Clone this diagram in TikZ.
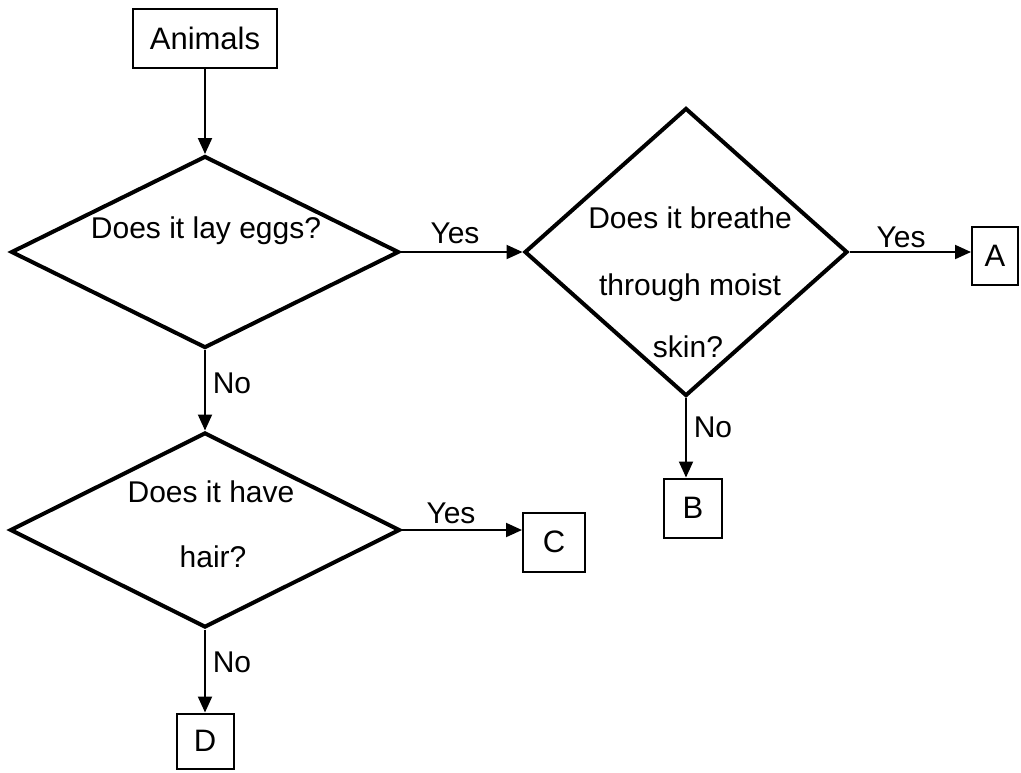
\documentclass[tikz,border=0pt]{standalone}
\usepackage{fontspec}
\setmainfont{Liberation Sans}
\usetikzlibrary{shapes.geometric,arrows.meta}
\tikzstyle{question}=[diamond, draw=black, line width=2pt, inner sep=0pt]
\tikzstyle{leaf}=[rectangle, draw=black, line width=1pt, inner sep=0pt, font=\fontsize{15.5}{18}\selectfont]
\tikzstyle{qtext}=[anchor=base, inner sep=0pt, font=\fontsize{15}{18}\selectfont]
\tikzstyle{branch}=[anchor=base, inner sep=0pt, font=\fontsize{15}{18}\selectfont]
\tikzstyle{flow}=[line width=1pt, -{Triangle[length=8pt,width=7pt]}]

\begin{document}
\begin{tikzpicture}[x=0.5pt, y=-0.5pt]
				\useasboundingbox (0,0) rectangle (1021,772);

				% Start of the key
				\node[leaf, minimum width=72pt, minimum height=29.5pt] (animals) at (205,38) {Animals};

				% Questions
				\node[question, minimum width=194pt, minimum height=96pt] (eggs) at (205,252) {};
				\node[question, minimum width=161.5pt, minimum height=144pt] (skin) at (686,252) {};
				\node[question, minimum width=195pt, minimum height=97.5pt] (hair) at (205,530) {};

				\node[qtext] (eggsq) at (206,238) {Does it lay eggs?};
				\node[qtext] (skinq1) at (690,228) {Does it breathe};
				\node[qtext] (skinq2) at (690,295) {through moist};
				\node[qtext] (skinq3) at (688,357) {skin?};
				\node[qtext] (hairq1) at (211,502) {Does it have};
				\node[qtext] (hairq2) at (213,567) {hair?};

				% Groups
				\node[leaf, minimum width=23pt, minimum height=29pt] (a) at (995,256) {A};
				\node[leaf, minimum width=29pt, minimum height=29.5pt] (b) at (693,508) {B};
				\node[leaf, minimum width=31pt, minimum height=29.5pt] (c) at (554,542) {C};
				\node[leaf, minimum width=28.5pt, minimum height=27.5pt] (d) at (205,741) {D};

				% Arrows
				\draw[flow] (animals) -- (eggs);
				\draw[flow] (eggs.east) -- (skin.west);
				\draw[flow] (skin.east) -- (skin.east -| a.west);
				\draw[flow] (skin.south) -- (skin.south |- b.north);
				\draw[flow] (eggs.south) -- (hair.north);
				\draw[flow] (hair.east) -- (hair.east -| c.west);
				\draw[flow] (hair.south) -- (hair.south |- d.north);

				\node[branch] (yes1) at (455,243) {Yes};
				\node[branch] (yes2) at (901,247) {Yes};
				\node[branch] (yes3) at (451,523) {Yes};
				\node[branch] (no1) at (232,393) {No};
				\node[branch] (no2) at (713,437) {No};
				\node[branch] (no3) at (232,672) {No};
\end{tikzpicture}
\end{document}
